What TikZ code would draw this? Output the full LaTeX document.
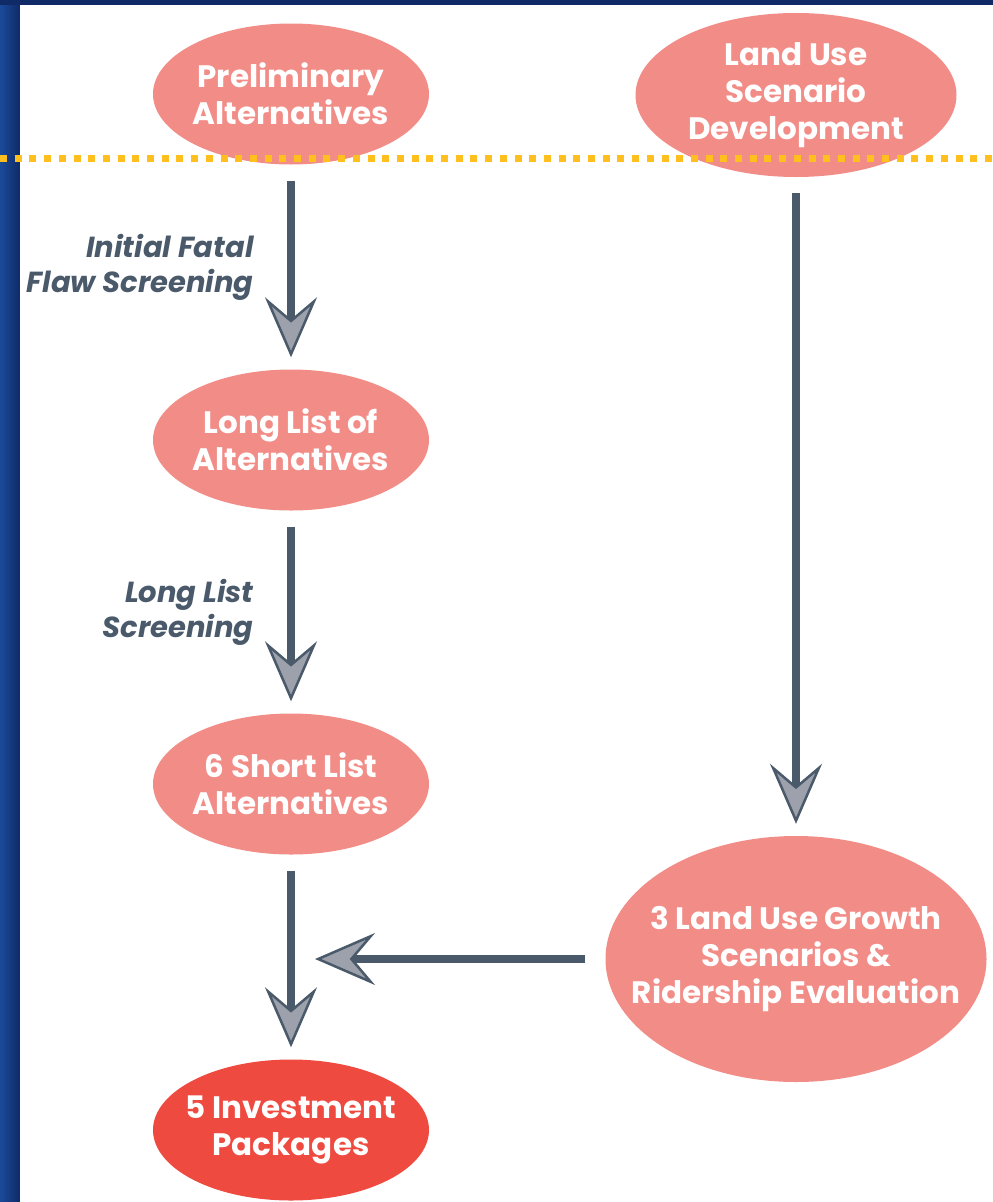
\documentclass[tikz,border=0pt]{standalone}
\usepackage{fontspec}
\setmainfont{Poppins}
\usetikzlibrary{arrows.meta,shapes.geometric,positioning}

\definecolor{framenavy}{HTML}{0F2A66}
\definecolor{frameblue}{HTML}{1B4A9B}
\definecolor{stagepink}{HTML}{F28C87}
\definecolor{finalred}{HTML}{EE4A40}
\definecolor{shaftslate}{HTML}{4A5A6B}
\definecolor{headgrey}{HTML}{9CA1AC}
\definecolor{cutgold}{HTML}{FFC01F}

\tikzset{
  stage/.style={ellipse,fill=stagepink,text=white,align=center,
    font=\fontsize{31}{37}\selectfont\bfseries,inner sep=0pt,inner xsep=-25pt,
    minimum width=276pt,minimum height=141pt},
  flow/.style={draw=shaftslate,line width=8pt,
    -{Stealth[length=60pt,width=52pt,inset=22pt,line width=2.5pt,fill=headgrey]},
    shorten <=16pt,shorten >=12pt},
  step label/.style={text=shaftslate,align=right,
    font=\fontsize{29}{35}\selectfont\bfseries\itshape},
}

\begin{document}
\begin{tikzpicture}[x=1pt,y=-1pt]
% frame
\fill[framenavy] (0,0) rectangle (993,1202);
\shade[left color=frameblue,right color=framenavy] (0,5) rectangle (20,1202);
\fill[white] (20,5) rectangle (993,1202);
\useasboundingbox (0,0) rectangle (993,1202);

% stages
\node[stage] (prelim) at (291,94) {Preliminary\\Alternatives};
\node[stage,minimum width=321pt,minimum height=164pt] (landuse) at (796,95)
  {Land Use\\Scenario\\Development};
\node[stage] (longlist) at (291,440) {Long List of\\Alternatives};
\node[stage] (shortlist) at (291,784) {6 Short List\\Alternatives};
\node[stage,minimum width=381pt,minimum height=246pt,inner xsep=-50pt] (growth)
  at (796,959) {3 Land Use Growth\\Scenarios \&\\Ridership Evaluation};
\node[stage,fill=finalred] (invest) at (291,1130) {5 Investment\\Packages};
\coordinate (merge) at (315,959);

% flows
\draw[flow] (prelim) -- node[step label,left=30pt] {Initial Fatal\\Flaw Screening} (longlist);
\draw[flow] (longlist) -- node[step label,left=30pt] {Long List\\Screening} (shortlist);
\draw[flow] (shortlist) -- (invest);
\draw[flow] (landuse) -- (growth);
\draw[flow,shorten <=20pt,shorten >=0pt] (growth) -- (merge);

% cut line
\draw[cutgold,line width=7pt,dash pattern=on 7pt off 7.7pt] (0,158) -- (993,158);
\end{tikzpicture}
\end{document}
